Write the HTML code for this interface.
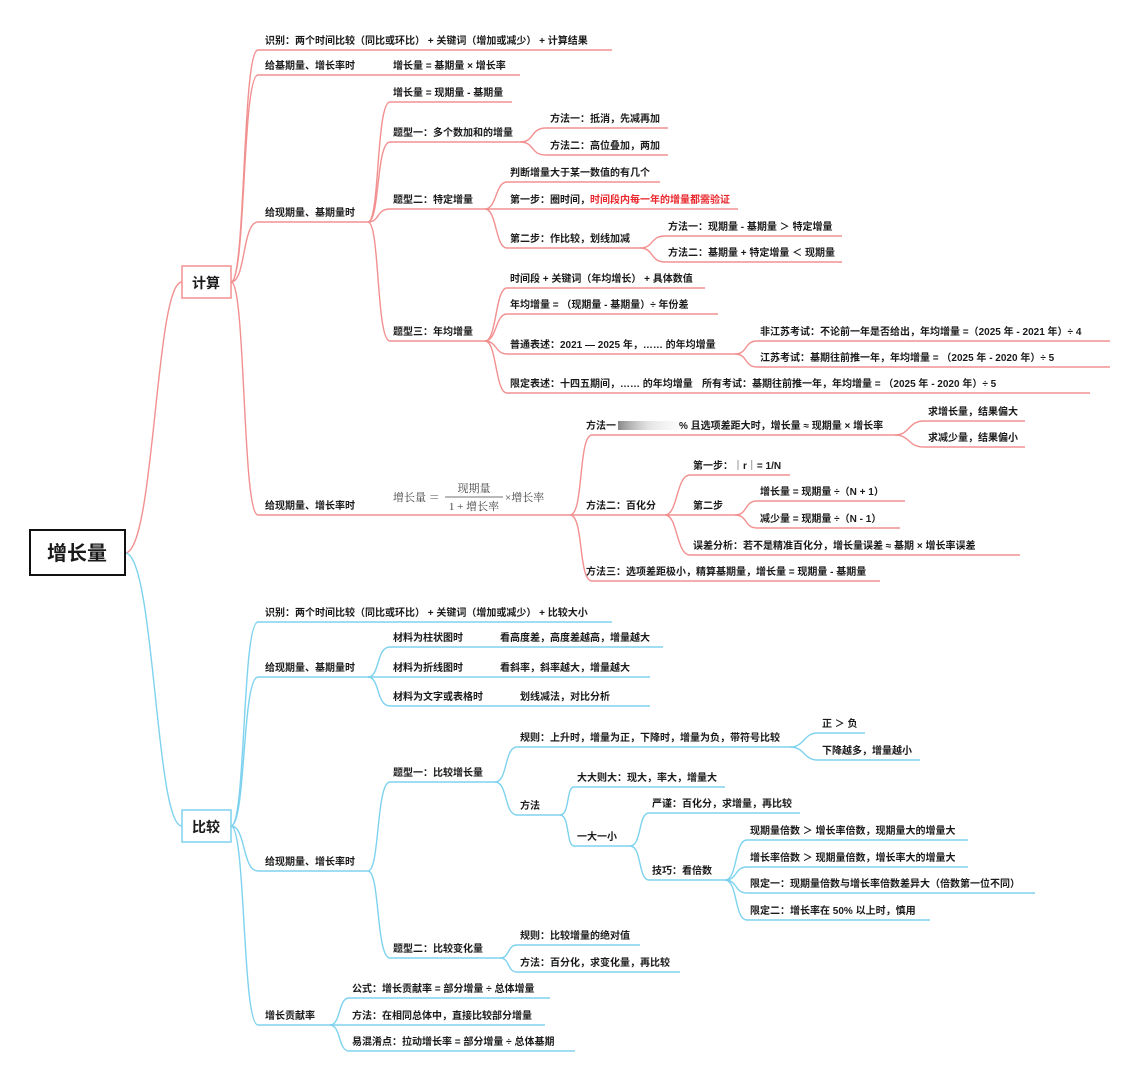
<!DOCTYPE html>
<html><head><meta charset="utf-8"><style>
html,body{margin:0;padding:0;background:#fff;}
svg{display:block;}
text{font-family:"Liberation Sans","Noto Sans CJK SC",sans-serif;font-size:10px;font-weight:bold;fill:#1a1a1a;}
.r{fill:none;stroke:#f29090;stroke-width:1.4;}
.b{fill:none;stroke:#7ed2ee;stroke-width:1.4;}
</style></head><body>
<svg width="1136" height="1080" viewBox="0 0 1136 1080" xmlns="http://www.w3.org/2000/svg">
<defs><linearGradient id="bl" x1="0" x2="1"><stop offset="0" stop-color="#555" stop-opacity="0.7"/><stop offset="0.5" stop-color="#bbb" stop-opacity="0.4"/><stop offset="1" stop-color="#eee" stop-opacity="0.2"/></linearGradient></defs>
<!-- root -->
<path class="r" d="M125 553 C155 553 155 282 182 282"/>
<path class="b" d="M125 553 C155 553 155 826 182 826"/>
<rect x="30" y="530" width="95" height="45" fill="#fff" stroke="#111" stroke-width="2"/>
<text x="77" y="560" text-anchor="middle" style="font-size:20px">增长量</text>
<rect x="182" y="266" width="49" height="32" fill="#fff" stroke="#f29090" stroke-width="1.5"/>
<text x="206" y="288" text-anchor="middle" style="font-size:14px">计算</text>
<rect x="182" y="810" width="49" height="32" fill="#fff" stroke="#7ed2ee" stroke-width="1.5"/>
<text x="206" y="832" text-anchor="middle" style="font-size:14px">比较</text>

<!-- RED L1 -->
<path class="r" d="M231 282 C246 282 242 50 258 50 H612"/>
<path class="r" d="M231 282 C246 282 242 75 258 75 H520"/>
<path class="r" d="M231 282 C246 282 242 222 258 222 H368"/>
<path class="r" d="M231 282 C246 282 242 515 258 515 H570"/>
<text x="265" y="44">识别：两个时间比较（同比或环比） + 关键词（增加或减少） + 计算结果</text>
<text x="265" y="69">给基期量、增长率时</text>
<text x="393" y="69">增长量 = 基期量 × 增长率</text>
<text x="265" y="216">给现期量、基期量时</text>
<text x="265" y="509">给现期量、增长率时</text>

<!-- 给现期量、基期量时 children -->
<path class="r" d="M368 222 C380 222 376 102 390 102 H512"/>
<path class="r" d="M368 222 C380 222 376 142 390 142 H520"/>
<path class="r" d="M368 222 C380 222 376 209 390 209 H485"/>
<path class="r" d="M368 222 C380 222 376 341 390 341 H485"/>
<text x="393" y="96">增长量 = 现期量 - 基期量</text>
<text x="393" y="136">题型一：多个数加和的增量</text>
<text x="393" y="203">题型二：特定增量</text>
<text x="393" y="335">题型三：年均增量</text>

<path class="r" d="M520 142 C535 142 530 128 546 128 H668"/>
<path class="r" d="M520 142 C535 142 530 155 546 155 H668"/>
<text x="550" y="122">方法一：抵消，先减再加</text>
<text x="550" y="149">方法二：高位叠加，两加</text>

<path class="r" d="M485 209 C497 209 495 182 507 182 H660"/>
<path class="r" d="M485 209 C497 209 495 209 507 209 H738"/>
<path class="r" d="M485 209 C497 209 495 248 507 248 H640"/>
<text x="510" y="176">判断增量大于某一数值的有几个</text>
<text x="510" y="203">第一步：圈时间，<tspan style="fill:#e8262b">时间段内每一年的增量都需验证</tspan></text>
<text x="510" y="242">第二步：作比较，划线加减</text>
<path class="r" d="M640 248 C654 248 650 236 665 236 H842"/>
<path class="r" d="M640 248 C654 248 650 262 665 262 H842"/>
<text x="668" y="230">方法一：现期量 - 基期量 ＞ 特定增量</text>
<text x="668" y="256">方法二：基期量 + 特定增量 ＜ 现期量</text>

<path class="r" d="M485 341 C497 341 495 288 507 288 H705"/>
<path class="r" d="M485 341 C497 341 495 314 507 314 H718"/>
<path class="r" d="M485 341 C497 341 495 354 507 354 H735"/>
<path class="r" d="M485 341 C497 341 495 393 507 393 H1090"/>
<text x="510" y="282">时间段 + 关键词（年均增长） + 具体数值</text>
<text x="510" y="308">年均增量 = （现期量 - 基期量）÷ 年份差</text>
<text x="510" y="348">普通表述：2021 — 2025 年，…… 的年均增量</text>
<text x="510" y="387">限定表述：十四五期间，…… 的年均增量</text>
<text x="702" y="387">所有考试：基期往前推一年，年均增量 = （2025 年 - 2020 年）÷ 5</text>
<path class="r" d="M735 354 C748 354 744 341 757 341 H1110"/>
<path class="r" d="M735 354 C748 354 744 367 757 367 H1110"/>
<text x="760" y="335">非江苏考试：不论前一年是否给出，年均增量 =（2025 年 - 2021 年）÷ 4</text>
<text x="760" y="361">江苏考试：基期往前推一年，年均增量 = （2025 年 - 2020 年）÷ 5</text>

<!-- formula -->
<g style="font-family:'Liberation Serif','Noto Serif CJK SC',serif;">
<text x="393" y="501" style="font-weight:normal;font-size:11px;fill:#444;font-family:'Liberation Serif','Noto Serif CJK SC',serif">增长量 ＝</text>
<text x="474" y="492" text-anchor="middle" style="font-weight:normal;font-size:11px;fill:#444;font-family:'Liberation Serif','Noto Serif CJK SC',serif">现期量</text>
<line x1="445" y1="497" x2="503" y2="497" stroke="#444" stroke-width="0.8"/>
<text x="474" y="510" text-anchor="middle" style="font-weight:normal;font-size:11px;fill:#444;font-family:'Liberation Serif','Noto Serif CJK SC',serif">1 + 增长率</text>
<text x="505" y="501" style="font-weight:normal;font-size:11px;fill:#444;font-family:'Liberation Serif','Noto Serif CJK SC',serif">×增长率</text>
</g>

<!-- 给现期量、增长率时 children -->
<path class="r" d="M570 515 C584 515 578 435 592 435 H895"/>
<path class="r" d="M570 515 C584 515 578 515 592 515 H665"/>
<path class="r" d="M570 515 C584 515 578 581 592 581 H880"/>
<text x="586" y="429">方法一</text>
<rect x="618" y="421" width="62" height="9" fill="url(#bl)"/>
<text x="679" y="429">% 且选项差距大时，增长量 ≈ 现期量 × 增长率</text>
<text x="586" y="509">方法二：百化分</text>
<text x="586" y="575">方法三：选项差距极小，精算基期量，增长量 = 现期量 - 基期量</text>
<path class="r" d="M895 435 C910 435 908 421 924 421 H1025"/>
<path class="r" d="M895 435 C910 435 908 447 924 447 H1025"/>
<text x="928" y="415">求增长量，结果偏大</text>
<text x="928" y="441">求减少量，结果偏小</text>
<path class="r" d="M665 515 C678 515 676 475 690 475 H790"/>
<path class="r" d="M665 515 C678 515 676 515 690 515 H735"/>
<path class="r" d="M665 515 C678 515 676 555 690 555 H1020"/>
<text x="693" y="469">第一步：｜r｜= 1/N</text>
<text x="693" y="509">第二步</text>
<text x="693" y="549">误差分析：若不是精准百化分，增长量误差 ≈ 基期 × 增长率误差</text>
<path class="r" d="M735 515 C748 515 744 501 757 501 H905"/>
<path class="r" d="M735 515 C748 515 744 528 757 528 H900"/>
<text x="760" y="495">增长量 = 现期量 ÷（N + 1）</text>
<text x="760" y="522">减少量 = 现期量 ÷（N - 1）</text>

<!-- BLUE L1 -->
<path class="b" d="M231 826 C246 826 242 622 258 622 H612"/>
<path class="b" d="M231 826 C246 826 242 677 258 677 H368"/>
<path class="b" d="M231 826 C246 826 242 871 258 871 H368"/>
<path class="b" d="M231 826 C246 826 242 1025 258 1025 H330"/>
<text x="265" y="616">识别：两个时间比较（同比或环比） + 关键词（增加或减少） + 比较大小</text>
<text x="265" y="671">给现期量、基期量时</text>
<text x="265" y="865">给现期量、增长率时</text>
<text x="265" y="1019">增长贡献率</text>

<path class="b" d="M368 677 C380 677 376 647 390 647 H663"/>
<path class="b" d="M368 677 C380 677 376 677 390 677 H650"/>
<path class="b" d="M368 677 C380 677 376 706 390 706 H650"/>
<text x="393" y="641">材料为柱状图时</text><text x="500" y="641">看高度差，高度差越高，增量越大</text>
<text x="393" y="671">材料为折线图时</text><text x="500" y="671">看斜率，斜率越大，增量越大</text>
<text x="393" y="700">材料为文字或表格时</text><text x="520" y="700">划线减法，对比分析</text>

<path class="b" d="M368 871 C380 871 376 782 390 782 H495"/>
<path class="b" d="M368 871 C380 871 376 958 390 958 H500"/>
<text x="393" y="776">题型一：比较增长量</text>
<text x="393" y="952">题型二：比较变化量</text>

<path class="b" d="M495 782 C508 782 504 747 517 747 H790"/>
<path class="b" d="M495 782 C508 782 504 815 517 815 H560"/>
<text x="520" y="741">规则：上升时，增量为正，下降时，增量为负，带符号比较</text>
<text x="520" y="809">方法</text>
<path class="b" d="M790 747 C805 747 803 733 818 733 H865"/>
<path class="b" d="M790 747 C805 747 803 760 818 760 H920"/>
<text x="822" y="727">正 ＞ 负</text>
<text x="822" y="754">下降越多，增量越小</text>

<path class="b" d="M560 815 C570 815 566 787 574 787 H725"/>
<path class="b" d="M560 815 C570 815 566 846 574 846 H630"/>
<text x="577" y="781">大大则大：现大，率大，增量大</text>
<text x="577" y="840">一大一小</text>
<path class="b" d="M630 846 C642 846 638 813 649 813 H800"/>
<path class="b" d="M630 846 C642 846 638 880 649 880 H725"/>
<text x="652" y="807">严谨：百化分，求增量，再比较</text>
<text x="652" y="874">技巧：看倍数</text>
<path class="b" d="M725 880 C738 880 734 840 747 840 H968"/>
<path class="b" d="M725 880 C738 880 734 867 747 867 H968"/>
<path class="b" d="M725 880 C738 880 734 893 747 893 H1035"/>
<path class="b" d="M725 880 C738 880 734 920 747 920 H930"/>
<text x="750" y="834">现期量倍数 ＞ 增长率倍数，现期量大的增量大</text>
<text x="750" y="861">增长率倍数 ＞ 现期量倍数，增长率大的增量大</text>
<text x="750" y="887">限定一：现期量倍数与增长率倍数差异大（倍数第一位不同）</text>
<text x="750" y="914">限定二：增长率在 50% 以上时，慎用</text>

<path class="b" d="M500 958 C510 958 507 945 517 945 H640"/>
<path class="b" d="M500 958 C510 958 507 972 517 972 H680"/>
<text x="520" y="939">规则：比较增量的绝对值</text>
<text x="520" y="966">方法：百分化，求变化量，再比较</text>

<path class="b" d="M330 1025 C341 1025 338 998 349 998 H550"/>
<path class="b" d="M330 1025 C341 1025 338 1025 349 1025 H545"/>
<path class="b" d="M330 1025 C341 1025 338 1051 349 1051 H575"/>
<text x="352" y="992">公式：增长贡献率 = 部分增量 ÷ 总体增量</text>
<text x="352" y="1019">方法：在相同总体中，直接比较部分增量</text>
<text x="352" y="1045">易混淆点：拉动增长率 = 部分增量 ÷ 总体基期</text>
</svg>
</body></html>
